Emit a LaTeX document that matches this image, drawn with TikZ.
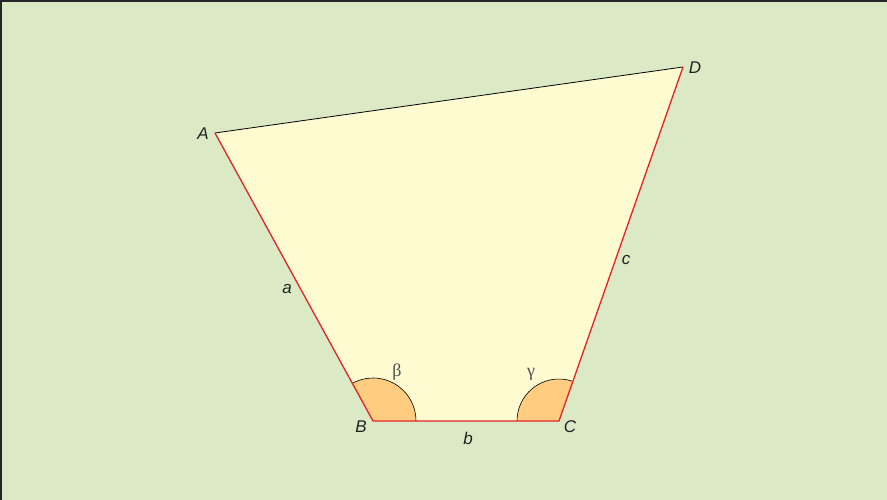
\documentclass[tikz,border=0pt]{standalone}
\usepackage{fontspec}
\setsansfont{Liberation Sans}
\newfontfamily\greekfont{Liberation Serif}
\usepackage{tikz}
\usetikzlibrary{positioning}
\definecolor{bggreen}{RGB}{220,233,197}
\definecolor{quadfill}{RGB}{255,251,208}
\definecolor{anglefill}{RGB}{255,204,128}
\definecolor{sidered}{RGB}{228,36,40}
\definecolor{labelgray}{RGB}{34,34,34}
\tikzstyle{side} = [sidered, line width=1.3pt]
\tikzstyle{topside} = [black, line width=0.8pt]
\tikzstyle{vlabel} = [text=labelgray, font=\sffamily\itshape\fontsize{17}{20}\selectfont, inner sep=0pt]
\tikzstyle{alabel} = [text=labelgray!80, font=\greekfont\fontsize{18}{20}\selectfont, inner sep=0pt]
\tikzstyle{angle} = [fill=anglefill, draw=none]

\begin{document}
\begin{tikzpicture}[x=1pt, y=1pt]

% Background
\useasboundingbox (0,0) rectangle (887,500);
\fill[bggreen] (0,0) rectangle (887,500);
\draw[line width=2pt, black!85] (1,0) -- (1,499) -- (887,499);

% Vertices
\coordinate (A) at (215,367);
\coordinate (B) at (373,79);
\coordinate (C) at (559,79);
\coordinate (D) at (683,433);

% Quadrilateral
\fill[quadfill] (A) -- (B) -- (C) -- (D) -- cycle;

% Angles
\fill[angle] (B) -- ++(43,0) arc (0:118.75:43) -- cycle;
\draw[black, line width=0.6pt] (B) ++(43,0) arc (0:118.75:43);
\fill[angle] (C) -- ++(70.7:42) arc (70.7:180:42) -- cycle;
\draw[black, line width=0.6pt] (C) ++(70.7:42) arc (70.7:180:42);

% Sides
\draw[topside] (A) -- (D);
\draw[side] (D) -- (C) -- (B) -- (A);

% Labels
\node (labA) [vlabel] at (203,366) {A};
\node (labB) [vlabel] at (361,73) {B};
\node (labC) [vlabel] at (570,73) {C};
\node (labD) [vlabel] at (695,432) {D};
\node (laba) [vlabel] at (287,211) {a};
\node (labb) [vlabel] at (468,62) {b};
\node (labc) [vlabel] at (626,240) {c};
\node (beta) [alabel] at (397,128) {β};
\node (gamma) [alabel] at (531,126) {γ};

\end{tikzpicture}
\end{document}
